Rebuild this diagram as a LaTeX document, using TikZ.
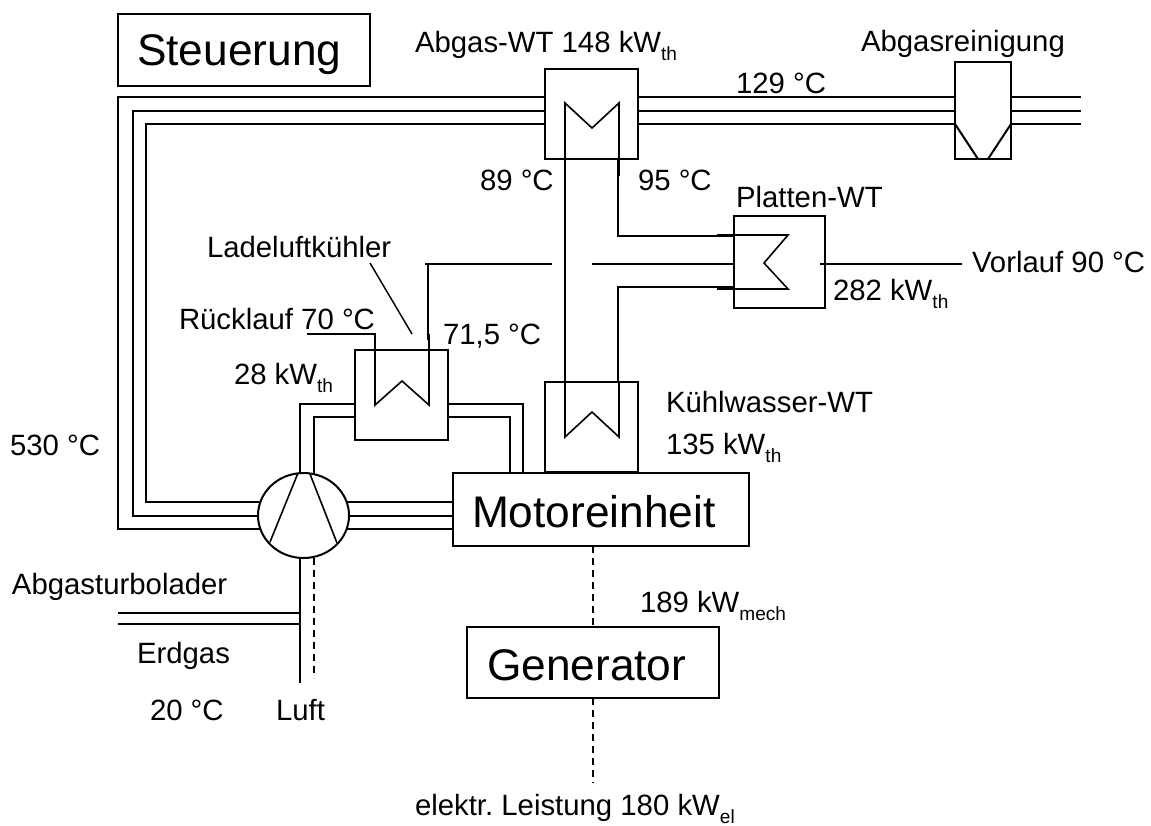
\documentclass[tikz,border=0pt]{standalone}
\usepackage{fontspec}
\usetikzlibrary{shapes.geometric}
\setmainfont{Liberation Sans}
\frenchspacing
\newcommand{\lowtxt}[1]{\raisebox{-6pt}{\fontsize{14.3}{16}\selectfont #1}}
\tikzset{
  lab/.style={anchor=base west,inner sep=0pt,outer sep=0pt,font=\fontsize{22}{26}\selectfont},
  biglab/.style={anchor=base west,inner sep=0pt,outer sep=0pt,font=\fontsize{33.2}{38}\selectfont},
  unit/.style={draw,rectangle,anchor=north west,inner sep=0pt,outer sep=0pt},
  pipe/.style={line join=miter},
  shaft/.style={dashed,dash pattern=on 5.5pt off 3.5pt}
}
\begin{document}
\begin{tikzpicture}[x=0.75pt,y=-0.75pt,line width=1.5pt]
\useasboundingbox (0,0) rectangle (1151,825);
% units
\node[unit,minimum width=189pt,minimum height=54pt] (steuer) at (118,14) {};
\node[unit,minimum width=69.75pt,minimum height=67.5pt] (abgaswt) at (545,69) {};
\node[unit,minimum width=42pt,minimum height=72.75pt] (reinig) at (955,62) {};
\node[unit,minimum width=68.25pt,minimum height=69pt] (platten) at (734,216) {};
\node[unit,minimum width=69.75pt,minimum height=67.5pt] (lade) at (355,350) {};
\node[unit,minimum width=69.75pt,minimum height=67.5pt] (kuehl) at (545,382) {};
\node[unit,minimum width=222pt,minimum height=54.75pt] (motor) at (453,473) {};
\node[unit,minimum width=189pt,minimum height=53.25pt] (gen) at (467,627) {};
\node[draw,ellipse,minimum width=68.25pt,minimum height=63.75pt,inner sep=0pt,outer sep=0pt] (atl) at (303.5,515.5) {};
% free ends
\coordinate (e1) at (1081,97);
\coordinate (e2) at (1081,111);
\coordinate (e3) at (1081,124);
\coordinate (gasA) at (118,613);
\coordinate (gasB) at (118,624);
\coordinate (airend) at (300,683);
\coordinate (airdash) at (314,678);
\coordinate (elout) at (593,783);
\coordinate (vorl) at (962,264);
% exhaust pipes turbo -> Abgas-WT
\draw[pipe] (260.5,529) -- (118,529) -- (118,97) -- (abgaswt.west |- 0,97);
\draw[pipe] (atl.west |- 0,516) -- (133,516) -- (133,111) -- (abgaswt.west |- 0,111);
\draw[pipe] (260.5,502) -- (146,502) -- (146,124) -- (abgaswt.west |- 0,124);
% Abgas-WT -> Reinigung -> out
\foreach \yy/\ee in {97/e1,111/e2,124/e3}{
  \draw (abgaswt.east |- 0,\yy) -- (reinig.west |- 0,\yy);
  \draw (reinig.east |- 0,\yy) -- (\ee);
}
\draw (reinig.west |- 0,124) -- (978,159);
\draw (reinig.east |- 0,124) -- (988,159);
% turbo -> motor
\draw (346.5,502) -- (motor.west |- 0,502);
\draw (atl.east |- 0,516) -- (motor.west |- 0,516);
\draw (346.5,529) -- (motor.west |- 0,529);
% turbo -> Ladeluft -> motor
\draw[pipe] (300,474) -- (300,404) -- (lade.west |- 0,404);
\draw[pipe] (314,475) -- (314,417) -- (lade.west |- 0,417);
\draw[pipe] (lade.east |- 0,404) -- (523,404) -- (523 ,473);
\draw[pipe] (lade.east |- 0,417) -- (510,417) -- (510 ,473);
% coil Abgas-WT
\draw[pipe,line width=1.2pt] (565,382) -- (565,103) -- (592,128) -- (619,103) -- (619,176);
\draw[pipe] (618,159) -- (618,236) -- (734,236);
% coil Platten-WT
\draw[pipe,line width=1.2pt] (717,235) -- (788,235) -- (764,263) -- (788,289) -- (717,289);
\draw[pipe] (platten.west |- 0,287) -- (618,287) -- (618,382);
\draw[pipe] (425,264) -- (552,264);
\draw (592,264) -- (platten.west |- 0,264);
\draw (820,264) -- (vorl);
% coil Kuehlwasser
\draw[pipe,line width=1.2pt] (565,382) -- (565,437) -- (592,412) -- (619,437) -- (619,382);
% coil Ladeluft
\draw[pipe,line width=1.2pt] (307,334) -- (375,334) -- (375,405) -- (402,381) -- (429,405) -- (429,334);
\draw (428,340) -- (428,264);
\draw[line width=1.1pt] (370,263) -- (412,334);
% turbine blades
\draw[line width=1.2pt] (298,473) -- (270,542);
\draw[line width=1.2pt] (310,474) -- (337,543);
% gas and air
\draw (atl.south -| 300,0) -- (airend);
\draw[shaft] (314,558) -- (airdash);
\draw (gasA) -- (300,613);
\draw (gasB) -- (300,624);
% shafts
\draw[shaft,line width=1.1pt] (motor.south -| 593,0) -- (gen.north -| 593,0);
\draw[shaft,line width=1.1pt] (gen.south -| 593,0) -- (elout);
% labels
\node[biglab] (tSteuer) at (137,65) {Steuerung};
\node[biglab] (tMotor) at (472,527) {Motoreinheit};
\node[biglab] (tGen) at (487,680) {Generator};
\node[lab] (t1) at (415,52) {Abgas-WT 148 kW\lowtxt{th}};
\node[lab] (t2) at (861,51) {Abgasreinigung};
\node[lab] (t3) at (736,93) {129 °C};
\node[lab] (t4) at (480,190) {89 °C};
\node[lab] (t5) at (638,190) {95 °C};
\node[lab] (t6) at (736,207) {Platten-WT};
\node[lab] (t7) at (972,272) {Vorlauf 90 °C};
\node[lab] (t8) at (833,300) {282 kW\lowtxt{th}};
\node[lab] (t9) at (207,257) {Ladeluftkühler};
\node[lab] (t10) at (179,329) {Rücklauf 70 °C};
\node[lab] (t11) at (443,344) {71,5 °C};
\node[lab] (t12) at (234,384) {28 kW\lowtxt{th}};
\node[lab] (t13) at (666,412) {Kühlwasser-WT};
\node[lab] (t14) at (666,454) {135 kW\lowtxt{th}};
\node[lab] (t15) at (10,455) {530 °C};
\node[lab] (t16) at (12,594) {Abgasturbolader};
\node[lab] (t17) at (137,663) {Erdgas};
\node[lab] (t18) at (150,720) {20 °C};
\node[lab] (t19) at (276,720) {Luft};
\node[lab] (t20) at (640,612) {189 kW\lowtxt{mech}};
\node[lab] (t21) at (415,815) {elektr. Leistung 180 kW\lowtxt{el}};
\end{tikzpicture}
\end{document}
